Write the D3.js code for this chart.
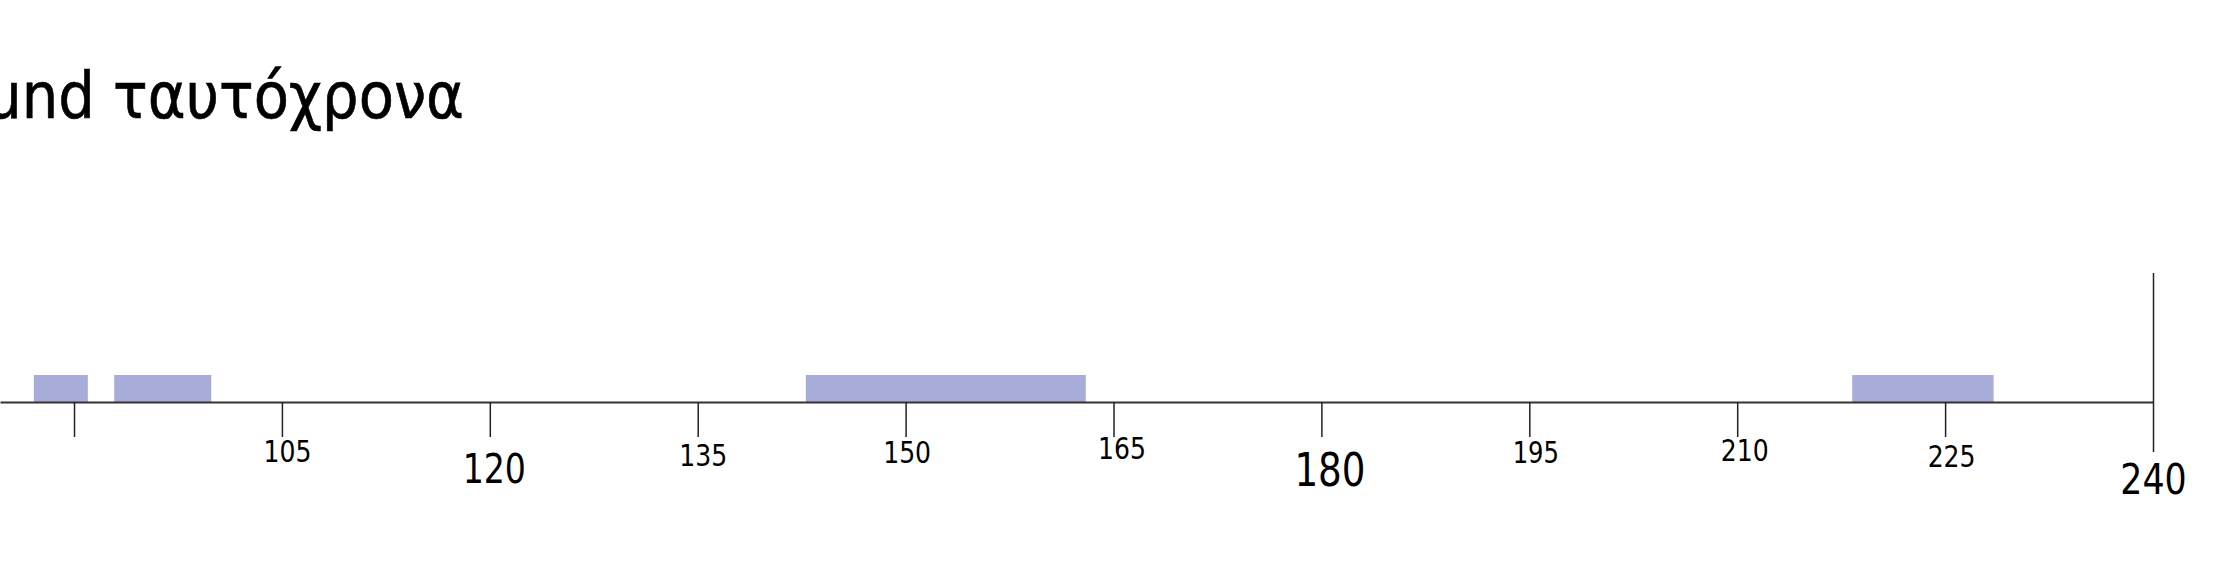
<!DOCTYPE html>
<html>
<head>
<meta charset="utf-8">
<script src="https://cdn.jsdelivr.net/npm/d3@7"></script>
<style>
  html, body { margin: 0; padding: 0; background: #fff; }
  svg { display: block; }
  text { font-family: "DejaVu Sans Condensed", "DejaVu Sans", sans-serif; fill: #000; }
</style>
</head>
<body>
<svg id="chart" width="2235" height="585"></svg>
<script>
// ---- data ----
const titleText = "und ταυτόχρονα";
const barStarts = [87.1, 92.9, 142.8, 218.3];
const barEnds   = [91, 99.9, 163, 228.5];
const tickValues = [90, 105, 120, 135, 150, 165, 180, 195, 210, 225, 240];
const tickLabels = ["", "105", "120", "135", "150", "165", "180", "195", "210", "225", "240"];

// ---- label styling (not data) ----
const labelSizes   = [31, 31, 41, 31, 31, 31, 46, 30, 31, 31, 43];
const labelDx      = [0, 5, 4, 5, 1, 8, 8, 6, 7, 6, 0];
const labelBaseDy  = [60, 60, 81, 64, 61, 57, 84, 61, 59, 65, 92];
const labelSqueeze = 0.9;

const W = 2235, H = 585;
const axisY = 402;
const barH = 27;

const svg = d3.select("#chart");

const x = d3.scaleLinear()
  .domain([84.66, 240])
  .range([0, 2153]);

// title
svg.append("text")
  .attr("x", 464)
  .attr("y", 118)
  .attr("text-anchor", "end")
  .attr("font-size", 64)
  .attr("stroke", "#000")
  .attr("stroke-width", 0.6)
  .text(titleText);

// bars
const bars = barStarts.map((s, i) => ({ s, e: barEnds[i] }));
svg.append("g").selectAll("rect")
  .data(bars)
  .join("rect")
  .attr("x", d => x(d.s))
  .attr("y", axisY - barH)
  .attr("width", d => x(d.e) - x(d.s))
  .attr("height", barH)
  .attr("fill", "#a8acd9");

// axis
const axis = d3.axisBottom(x)
  .tickValues(tickValues)
  .tickSize(35)
  .tickSizeOuter(0)
  .tickFormat((d, i) => tickLabels[i]);

const gAxis = svg.append("g")
  .attr("transform", `translate(0,${axisY})`)
  .call(axis);

gAxis.select(".domain")
  .attr("stroke", "#333")
  .attr("stroke-width", 2.2);

gAxis.selectAll(".tick line")
  .attr("stroke", "#222")
  .attr("stroke-width", 1.5);

gAxis.selectAll(".tick text")
  .attr("font-family", "DejaVu Sans Condensed, DejaVu Sans, sans-serif")
  .attr("fill", "#000")
  .attr("font-size", (d, i) => labelSizes[i])
  .attr("dy", null)
  .attr("transform", `scale(${labelSqueeze},1)`)
  .attr("y", (d, i) => labelBaseDy[i])
  .attr("x", (d, i) => labelDx[i] / labelSqueeze);

// end marker at 240
const lastTick = tickValues[tickValues.length - 1];
gAxis.selectAll(".tick")
  .filter(d => d === lastTick)
  .select("line")
  .attr("y1", -129)
  .attr("y2", 50);
</script>
</body>
</html>
